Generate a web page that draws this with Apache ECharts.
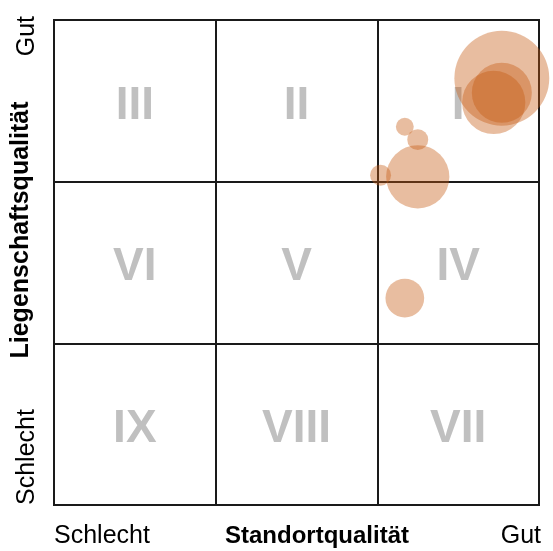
<!DOCTYPE html>
<html>
<head>
<meta charset="utf-8">
<script src="https://cdn.jsdelivr.net/npm/echarts@6/dist/echarts.min.js"></script>
<style>
  html, body { margin: 0; padding: 0; background: #fff; }
  #chart { width: 553px; height: 551px; }
</style>
</head>
<body>
<div id="chart"></div>
<script>
// Quadranten (von oben links nach unten rechts)
var quadrantLabels = ['III', 'II', 'I', 'VI', 'V', 'IV', 'IX', 'VIII', 'VII'];
// Achsenbeschriftung
var tickLow = 'Schlecht';
var tickHigh = 'Gut';
var xName = 'Standortqualität';
var yName = 'Liegenschaftsqualität';
// Objekte: Standort (x), Liegenschaft (y), Grösse
var bubbleX = [2.77, 2.72, 2.77, 2.17, 2.25, 2.25, 2.02, 2.17];
var bubbleY = [2.64, 2.49, 2.55, 2.34, 2.26, 2.03, 2.04, 1.28];
var bubbleSize = [90, 40, 36, 3.2, 4.4, 40, 4.4, 15];

var GL = 54, GT = 20, GW = 485, GH = 485;
var font = '"Liberation Sans", Arial, sans-serif';
var lineCol = '#1a1a1a';

var quadData = quadrantLabels.map(function (t, i) {
  return { value: [i % 3 + 0.5, 2.5 - Math.floor(i / 3)], name: t };
});
var bubbleData = bubbleX.map(function (x, i) {
  return [x, bubbleY[i], bubbleSize[i]];
});

var axisCommon = {
  type: 'value',
  min: 0,
  max: 3,
  interval: 1,
  axisLine: { show: true, lineStyle: { color: lineCol, width: 2 } },
  axisTick: { show: false },
  axisLabel: { show: false },
  splitLine: { show: true, lineStyle: { color: lineCol, width: 2 } }
};

var chart = echarts.init(document.getElementById('chart'));
var option = {
  animation: false,
  grid: {
    left: GL, top: GT, width: GW, height: GH,
    show: true, borderColor: lineCol, borderWidth: 2
  },
  xAxis: axisCommon,
  yAxis: axisCommon,
  graphic: [
    { type: 'text', x: GL, y: 536, style: { text: tickLow, font: '25px ' + font, fill: '#000', align: 'left', verticalAlign: 'middle' } },
    { type: 'text', x: GL + GW + 2, y: 536, style: { text: tickHigh, font: '25px ' + font, fill: '#000', align: 'right', verticalAlign: 'middle' } },
    { type: 'text', x: 317, y: 536, style: { text: xName, font: 'bold 24px ' + font, fill: '#000', align: 'center', verticalAlign: 'middle' } },
    { type: 'text', x: 27, y: GT - 4, rotation: Math.PI / 2, style: { text: tickHigh, font: '25px ' + font, fill: '#000', align: 'right', verticalAlign: 'middle' } },
    { type: 'text', x: 27, y: GT + GH, rotation: Math.PI / 2, style: { text: tickLow, font: '25px ' + font, fill: '#000', align: 'left', verticalAlign: 'middle' } },
    { type: 'text', x: 21, y: 230, rotation: Math.PI / 2, style: { text: yName, font: 'bold 25px ' + font, fill: '#000', align: 'center', verticalAlign: 'middle' } }
  ],
  series: [
    {
      type: 'scatter',
      silent: true,
      z: 1,
      symbolSize: 1,
      itemStyle: { color: 'transparent' },
      label: {
        show: true,
        position: 'inside',
        offset: [0, 5],
        formatter: '{b}',
        color: '#b0b0b0',
        fontSize: 46,
        fontWeight: 'bold',
        fontFamily: font
      },
      data: quadData
    },
    {
      type: 'scatter',
      z: 3,
      symbolSize: function (d) { return Math.sqrt(d[2]) * 10; },
      itemStyle: { color: '#C55A11', opacity: 0.4 },
      data: bubbleData
    }
  ]
};
chart.setOption(option);
</script>
</body>
</html>
